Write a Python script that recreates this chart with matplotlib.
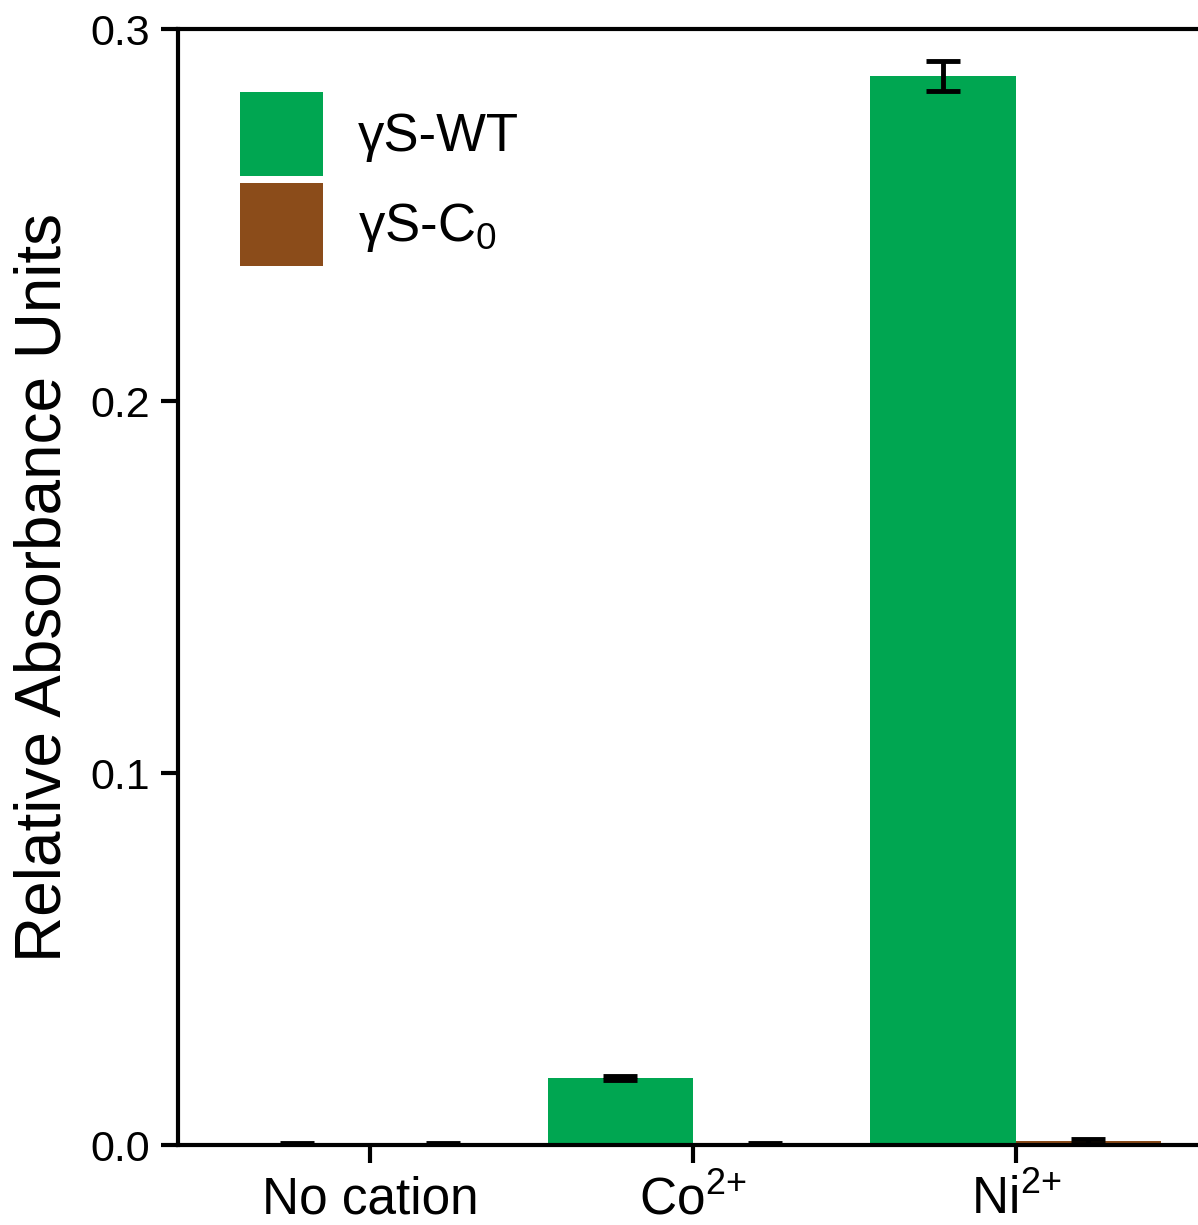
import matplotlib.pyplot as plt
import numpy as np

plt.rcParams['font.family'] = ['Liberation Sans', 'DejaVu Sans']
plt.rcParams['mathtext.default'] = 'regular'

# Данные: средние значения и погрешности по группам
categories = ['No cation', 'Co$^{2{+}}$', 'Ni$^{2{+}}$']
wt_values = [0.0003, 0.0180, 0.2874]
wt_errors = [0.0002, 0.0005, 0.0040]
c0_values = [0.0003, 0.0003, 0.0010]
c0_errors = [0.0002, 0.0002, 0.0007]
series_labels = ['γS-WT', 'γS-C$_0$']

green = '#00a651'
brown = '#8b4c1a'

fig = plt.figure(figsize=(11.98, 12.25), dpi=100)
ax = fig.add_axes([0.1486, 0.0653, 0.8514, 0.911])

x = np.arange(len(categories))
w = 0.45
ax.bar(x - w / 2, wt_values, w, color=green, label=series_labels[0])
ax.bar(x + w / 2, c0_values, w, color=brown, label=series_labels[1])
ekw = dict(fmt='none', ecolor='black', elinewidth=3.5, capsize=12, capthick=3.5)
ax.errorbar(x - w / 2, wt_values, yerr=wt_errors, **ekw)
ax.errorbar(x + w / 2, c0_values, yerr=c0_errors, **ekw)

ax.set_xlim(-0.595, 2.565)
ax.set_ylim(0, 0.3)
ax.set_yticks([0, 0.1, 0.2, 0.3])
ax.set_yticklabels(['0.0', '0.1', '0.2', '0.3'])
ax.set_xticks(x)
ax.set_xticklabels(categories, fontsize=37)
ax.tick_params(axis='y', labelsize=31, width=3, length=12, pad=8)
ax.tick_params(axis='x', width=3, length=13, pad=9)

for side in ['left', 'top', 'bottom']:
    ax.spines[side].set_linewidth(3)
ax.spines['right'].set_visible(False)

ax.set_ylabel('Relative Absorbance Units', fontsize=46, labelpad=12)

ax.legend(loc='upper left', bbox_to_anchor=(0.0608, 0.9435), frameon=False,
          fontsize=38, handlelength=1.57, handleheight=2.06, labelspacing=0.13,
          handletextpad=0.66, borderpad=0, borderaxespad=0)

fig.savefig('out.png', dpi=100)
